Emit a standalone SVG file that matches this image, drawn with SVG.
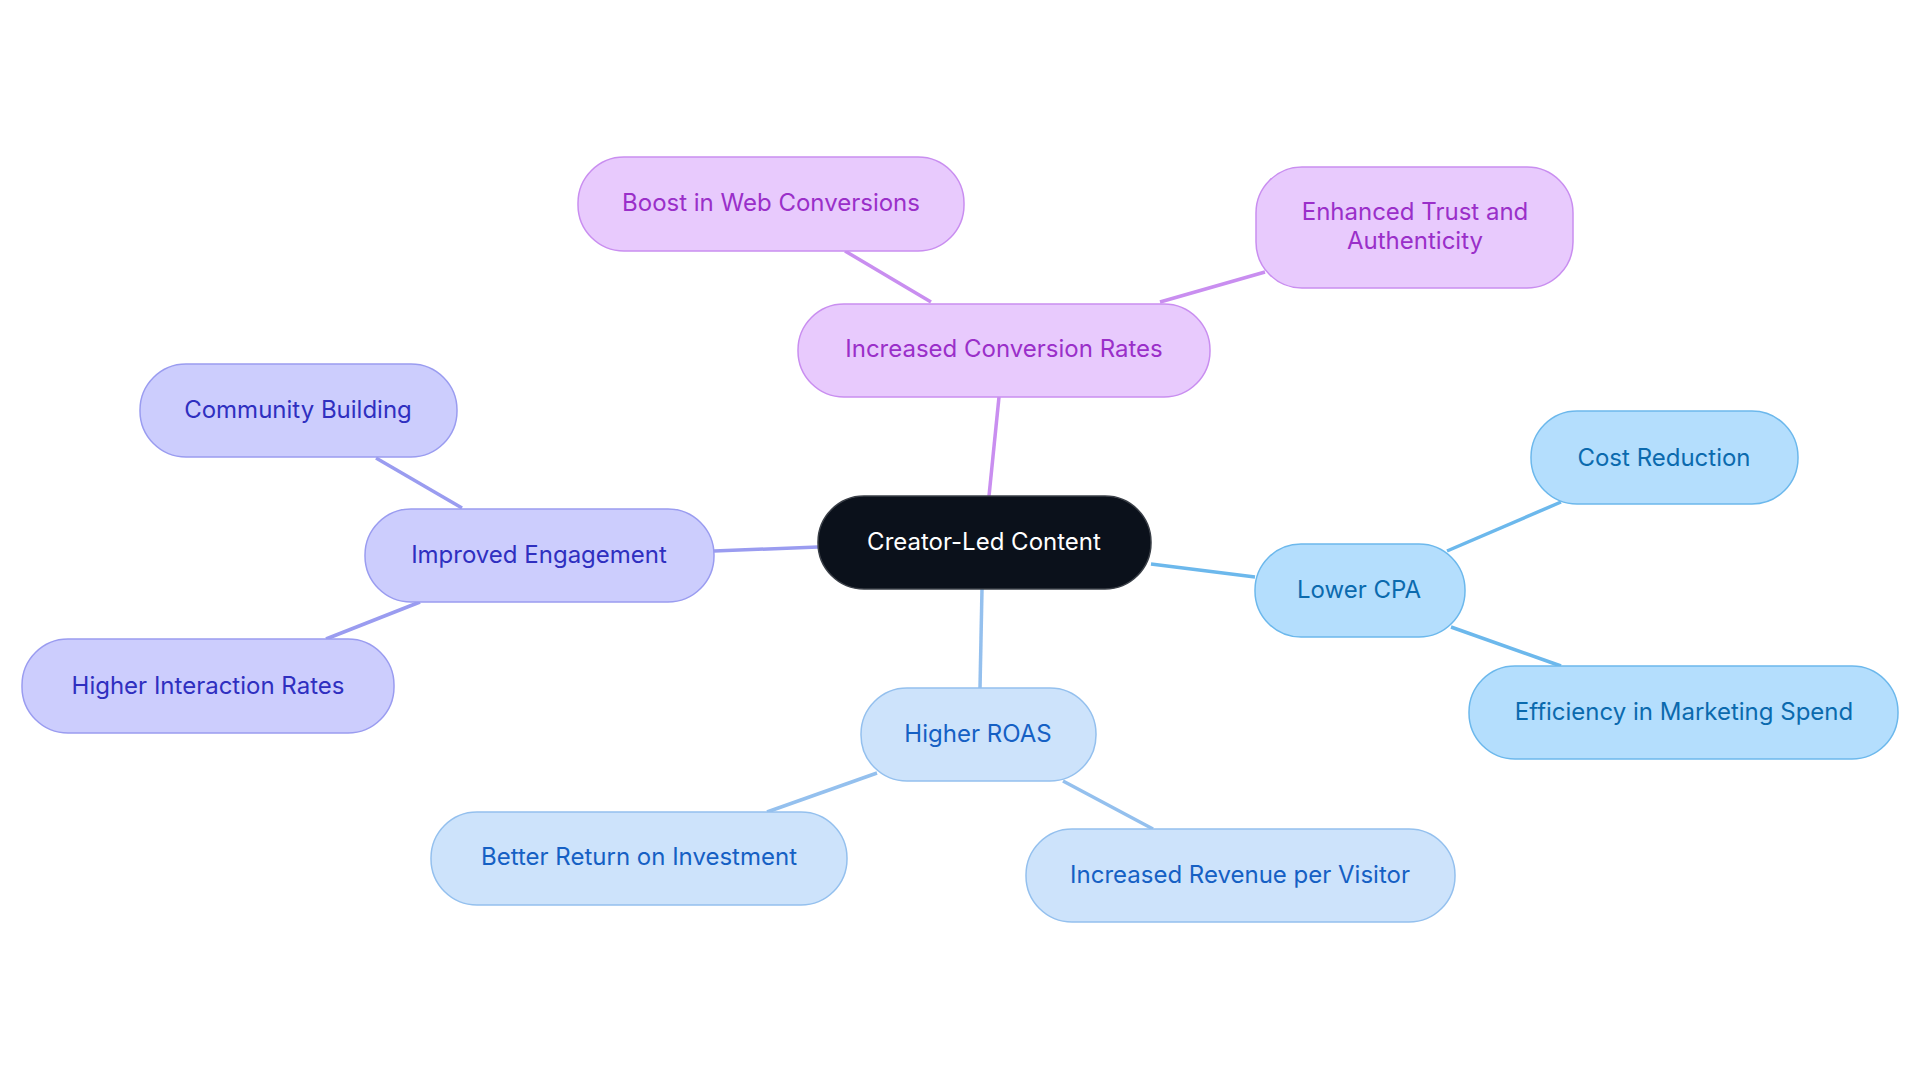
<svg xmlns="http://www.w3.org/2000/svg" width="1920" height="1083" viewBox="0 0 1920 1083">
<style>
text{font-family:Inter,"Noto Sans",sans-serif;font-size:24px;text-anchor:middle;dominant-baseline:central}
.p rect{fill:#e8cafd;stroke:#c98ef0;stroke-width:1.5}.p text{fill:#9a2fc9}
.i rect{fill:#cccdfd;stroke:#9a9cf0;stroke-width:1.5}.i text{fill:#2f2fc0}
.c rect{fill:#b4defd;stroke:#6cb8ec;stroke-width:1.5}.c text{fill:#0b6aae}
.r rect{fill:#cde3fb;stroke:#94c0ee;stroke-width:1.5}.r text{fill:#1560c4}
#edges line{stroke-width:3.5}
</style>
<rect width="1920" height="1083" fill="#fff"/>
<g id="edges">
<line x1="989" y1="496" x2="999" y2="397" stroke="#c98ef0"/>
<line x1="931" y1="302" x2="845" y2="251" stroke="#c98ef0"/>
<line x1="1160" y1="302" x2="1265" y2="272" stroke="#c98ef0"/>
<line x1="818" y1="547" x2="714" y2="551" stroke="#9a9cf0"/>
<line x1="462" y1="508" x2="376" y2="458" stroke="#9a9cf0"/>
<line x1="420" y1="602" x2="326" y2="639" stroke="#9a9cf0"/>
<line x1="1151" y1="564" x2="1255" y2="577" stroke="#6cb8ec"/>
<line x1="1447" y1="551" x2="1561" y2="502" stroke="#6cb8ec"/>
<line x1="1451" y1="627" x2="1561" y2="666" stroke="#6cb8ec"/>
<line x1="982" y1="589" x2="980" y2="688" stroke="#94c0ee"/>
<line x1="877" y1="773" x2="767" y2="812" stroke="#94c0ee"/>
<line x1="1063" y1="781" x2="1153" y2="829" stroke="#94c0ee"/>
</g>
<g id="center"><rect x="818" y="496" width="333" height="93" rx="46" fill="#0b111b" stroke="#3a3f47" stroke-width="1.5"/><text x="984" y="541" fill="#fff">Creator-Led Content</text></g>
<g id="icr" class="p"><rect x="798" y="304" width="412" height="93" rx="46"/><text x="1004" y="348">Increased Conversion Rates</text></g>
<g id="boost" class="p"><rect x="578" y="157" width="386" height="94" rx="46"/><text x="771" y="202">Boost in Web Conversions</text></g>
<g id="trust" class="p"><rect x="1256" y="167" width="317" height="121" rx="46"/><text x="1415" y="211">Enhanced Trust and</text><text x="1415" y="240">Authenticity</text></g>
<g id="ie" class="i"><rect x="365" y="509" width="349" height="93" rx="46"/><text x="539" y="554">Improved Engagement</text></g>
<g id="cb" class="i"><rect x="140" y="364" width="317" height="93" rx="46"/><text x="298" y="409">Community Building</text></g>
<g id="hir" class="i"><rect x="22" y="639" width="372" height="94" rx="46"/><text x="208" y="685">Higher Interaction Rates</text></g>
<g id="cpa" class="c"><rect x="1255" y="544" width="210" height="93" rx="46"/><text x="1359" y="589">Lower CPA</text></g>
<g id="cr" class="c"><rect x="1531" y="411" width="267" height="93" rx="46"/><text x="1664" y="457">Cost Reduction</text></g>
<g id="eff" class="c"><rect x="1469" y="666" width="429" height="93" rx="46"/><text x="1684" y="711">Efficiency in Marketing Spend</text></g>
<g id="roas" class="r"><rect x="861" y="688" width="235" height="93" rx="46"/><text x="978" y="733">Higher ROAS</text></g>
<g id="br" class="r"><rect x="431" y="812" width="416" height="93" rx="46"/><text x="639" y="856">Better Return on Investment</text></g>
<g id="irv" class="r"><rect x="1026" y="829" width="429" height="93" rx="46"/><text x="1240" y="874">Increased Revenue per Visitor</text></g>
</svg>
